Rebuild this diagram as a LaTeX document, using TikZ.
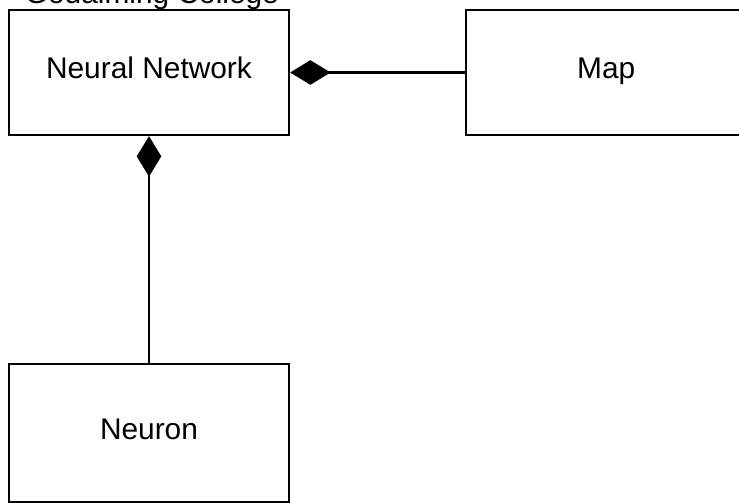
\documentclass[tikz,border=0pt]{standalone}
\usepackage{fontspec}
\setmainfont{Liberation Sans}
\usetikzlibrary{positioning,arrows.meta}

\begin{document}
\begin{tikzpicture}[node distance={2cm}, line width=0.65pt, font=\fontsize{8.5}{10}\selectfont,
        main/.style = {draw, rectangle, minimum width=2.8cm, text height=6.2pt, text depth=2.8pt},
        comp/.style = {-{Diamond[length=11.5pt, width=7pt]}}]
        \clip (0,0) rectangle (7.39,-5.02);
        \fill[white] (0,0) rectangle (7.39,-5.02);

        \node[anchor=base west] (title) at (0.12,-0.03) {Godalming College};

        \node[main, minimum height=1.25cm] (net) at (1.49,-0.725) {Neural Network};
        \node[main, minimum height=1.25cm] (map) [right=1.75cm of net] {Map};
        \node[main, minimum height=1.375cm] (neuron) [below=2.27cm of net] {Neuron};

        \draw[comp] (map) -- (net);
        \draw[comp] (neuron) -- (net);

    \end{tikzpicture}
\end{document}
